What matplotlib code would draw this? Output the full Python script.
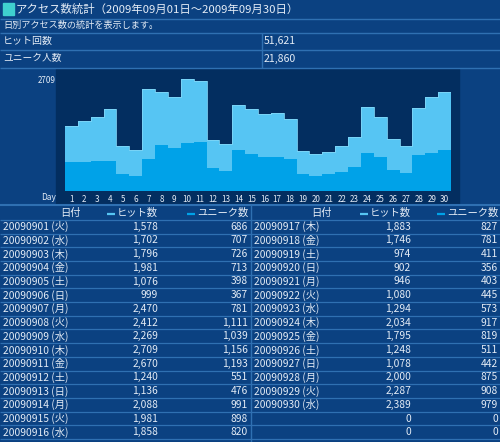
import matplotlib
matplotlib.use("Agg")
import matplotlib.pyplot as plt
from matplotlib.patches import Rectangle

plt.rcParams['font.family'] = ['Noto Sans CJK JP', 'DejaVu Sans']

title = "アクセス数統計（2009年09月01日～2009年09月30日）"
subtitle = "日別アクセス数の統計を表示します。"
summary_labels = ["ヒット回数", "ユニーク人数"]
summary_values = ["51,621", "21,860"]

days = list(range(1, 31))
weekdays = ["火", "水", "木", "金", "土", "日", "月",
            "火", "水", "木", "金", "土", "日", "月",
            "火", "水", "木", "金", "土", "日", "月",
            "火", "水", "木", "金", "土", "日", "月",
            "火", "水"]
hits = [1578, 1702, 1796, 1981, 1076, 999, 2470, 2412, 2269, 2709,
        2670, 1240, 1136, 2088, 1981, 1858, 1883, 1746, 974, 902,
        946, 1080, 1294, 2034, 1795, 1248, 1078, 2000, 2287, 2389]
uniques = [686, 707, 726, 713, 398, 367, 781, 1111, 1039, 1156,
           1193, 551, 476, 991, 898, 820, 827, 781, 411, 356,
           403, 445, 573, 917, 819, 511, 442, 875, 908, 979]
ymax = 2709
col_headers = ["日付", "ヒット数", "ユニーク数"]

BG = '#0b4181'
LINE = '#2f70b2'
PLOT = '#032e60'
TXT = '#e4ecf6'
C_HIT = '#56c5f3'
C_UNI = '#00a2e8'

fig = plt.figure(figsize=(5.0, 4.42), dpi=100)
fig.patch.set_facecolor(BG)
main = fig.add_axes([0, 0, 1, 1])
main.set_xlim(0, 500)
main.set_ylim(442, 0)
main.axis('off')

def hline(y, x0=0, x1=500, lw=1.0, c=LINE):
    main.plot([x0, x1], [y, y], color=c, lw=lw, solid_capstyle='butt')

def vline(x, y0, y1, lw=1.0, c=LINE):
    main.plot([x, x], [y0, y1], color=c, lw=lw, solid_capstyle='butt')

# top section
main.add_patch(Rectangle((3, 3), 11, 12, color='#3fd0cf'))
main.text(16, 9.5, title, fontsize=8.2, color=TXT, va='center', ha='left')
hline(18.5)
main.text(3, 25.5, subtitle, fontsize=6.6, color=TXT, va='center', ha='left')
hline(32.5)
main.text(3, 41, summary_labels[0], fontsize=7.2, color=TXT, va='center')
main.text(264, 41, summary_values[0], fontsize=7.6, color=TXT, va='center')
hline(49.5)
main.text(3, 58.5, summary_labels[1], fontsize=7.0, color=TXT, va='center')
main.text(264, 58.5, summary_values[1], fontsize=7.6, color=TXT, va='center')
hline(67.5)
vline(261.5, 32.5, 67.5)

# chart area
main.add_patch(Rectangle((56, 68.5), 403, 135, color=PLOT))
main.text(49, 198, "Day", fontsize=6.0, color=TXT, ha='center', va='center')
hline(204.5, lw=1.5)

ax = fig.add_axes([65 / 500, 1 - 190.7 / 442, (451 - 65) / 500, (190.7 - 79.3) / 442])
ax.patch.set_visible(False)
for s in ax.spines.values():
    s.set_visible(False)
ax.bar(days, hits, width=1.0, color=C_HIT, edgecolor='none')
ax.bar(days, uniques, width=1.0, color=C_UNI, edgecolor='none')
ax.step([d - 0.5 for d in days] + [30.5], hits + [hits[-1]], where='post', color='#7fd6f7', lw=0.6)
ax.set_xlim(0.5, 30.5)
ax.set_ylim(0, ymax)
ax.set_xticks(days)
ax.set_xticklabels([str(d) for d in days], fontsize=5.8, color=TXT)
ax.set_yticks([ymax])
ax.set_yticklabels([str(ymax)], fontsize=5.8, color=TXT)
ax.tick_params(axis='x', length=0, pad=3.2)
ax.tick_params(axis='y', length=0, pad=7)

# tables
row0 = 213.0
rh = 13.7
fs = 7.4
tables = [
    dict(start=0, n=16, xd=3, xh=70, xhit=158, xuni=248),
    dict(start=16, n=16, xd=254, xh=321, xhit=411, xuni=498),
]
fig.canvas.draw()
renderer = fig.canvas.get_renderer()
inv = main.transData.inverted()
for t in tables:
    main.text(t['xh'], row0, col_headers[0], fontsize=fs, color=TXT, ha='center', va='center')
    for key, hdr, col in (('xhit', col_headers[1], C_HIT), ('xuni', col_headers[2], C_UNI)):
        tx = main.text(t[key], row0, hdr, fontsize=fs, color=TXT, ha='right', va='center')
        bb = tx.get_window_extent(renderer=renderer)
        x_left = inv.transform((bb.x0, bb.y0))[0]
        main.plot([x_left - 10, x_left - 2], [row0 + 0.5, row0 + 0.5], color=col, lw=1.6,
                  solid_capstyle='butt')
    for k in range(t['n']):
        i = t['start'] + k
        y = row0 + rh * (k + 1)
        if i < len(days):
            label = f"200909{days[i]:02d} ({weekdays[i]})"
            main.text(t['xd'], y, label, fontsize=fs, color=TXT, ha='left', va='center')
            h = f"{hits[i]:,}"
            u = f"{uniques[i]:,}"
        else:
            h, u = "0", "0"
        main.text(t['xhit'], y, h, fontsize=fs, color=TXT, ha='right', va='center')
        main.text(t['xuni'], y, u, fontsize=fs, color=TXT, ha='right', va='center')

for k in range(17):
    y = row0 + rh * 0.5 + rh * k
    hline(y, lw=0.9)
vline(250.5, 205, 442)

fig.savefig("out.png", dpi=100, facecolor=BG)
